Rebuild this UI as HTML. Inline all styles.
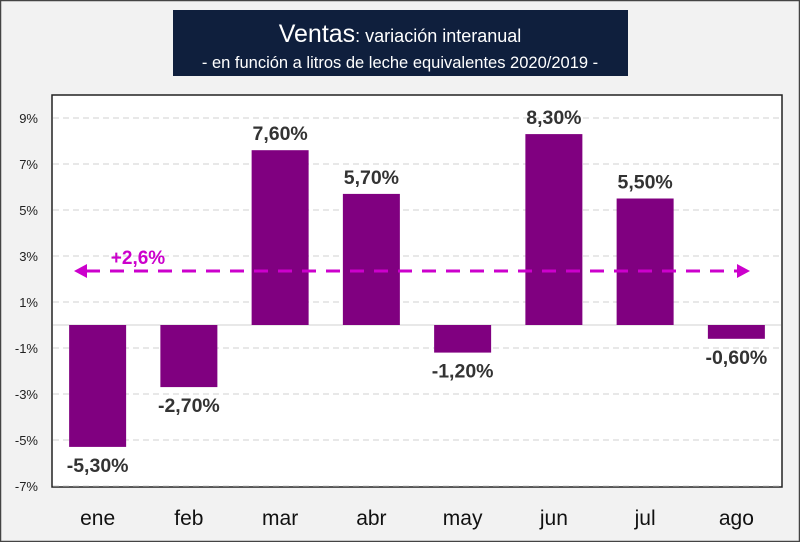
<!DOCTYPE html>
<html><head><meta charset="utf-8">
<style>
html,body{margin:0;padding:0;background:#f2f2f2;}
body{width:800px;height:542px;overflow:hidden;font-family:"Liberation Sans",sans-serif;}
</style></head>
<body>
<svg id="chart" width="800" height="542" xmlns="http://www.w3.org/2000/svg" style="display:block">
  <rect x="0.5" y="0.5" width="799" height="541" fill="#f2f2f2" stroke="#444" stroke-width="1.5"/>
  <rect x="173" y="10" width="455" height="66" fill="#0f1f3d"/>
  <text x="400" y="42" text-anchor="middle" fill="#fff" font-size="18"><tspan font-size="25">Ventas</tspan>: variación interanual</text>
  <text x="400" y="68" text-anchor="middle" fill="#fff" font-size="16.5">- en función a litros de leche equivalentes 2020/2019 -</text>
  <rect x="52" y="95" width="730" height="392" fill="#fff" stroke="#222" stroke-width="1.5"/>
  <g id="grid"></g>
  <g id="bars"></g>
  <g id="labels"></g>
  <g id="annot"></g>
</svg>
<script>
const categories = ["ene","feb","mar","abr","may","jun","jul","ago"];
const values = [-5.3,-2.7,7.6,5.7,-1.2,8.3,5.5,-0.6];
const valueLabels = ["-5,30%","-2,70%","7,60%","5,70%","-1,20%","8,30%","5,50%","-0,60%"];
const tickValues = [9,7,5,3,1,-1,-3,-5,-7];
const tickLabels = ["9%","7%","5%","3%","1%","-1%","-3%","-5%","-7%"];
const averageValue = [2.35];
const averageLabel = ["+2,6%"];

const NS="http://www.w3.org/2000/svg";
const L=52,R=782,Y0=325,PX=23;
const y = v => Y0 - v*PX;
const band=(R-L)/categories.length;
const xc = i => L + band*(i+0.5);
const bw = 57;
function mk(tag,attrs,parent){const e=document.createElementNS(NS,tag);for(const k in attrs)e.setAttribute(k,attrs[k]);parent.appendChild(e);return e;}
const grid=document.getElementById('grid'),bars=document.getElementById('bars'),labels=document.getElementById('labels'),annot=document.getElementById('annot');
tickValues.forEach((t,i)=>{
  const g=mk('line',{x1:L+1,x2:R-1,y1:y(t),y2:y(t),stroke:'#d0d0d0','stroke-dasharray':'6,4','stroke-width':1},grid);
  
  
  const tl=mk('text',{x:38,y:y(t)+5,'text-anchor':'end','font-size':13,fill:'#222'},grid);
  tl.textContent=tickLabels[i];
  
  
});
const zl=mk('line',{x1:L+1,x2:R-1,y1:y(0),y2:y(0),stroke:'#d0d0d0','stroke-width':1},grid);


values.forEach((v,i)=>{
  const top=Math.min(y(v),y(0)),h=Math.abs(y(v)-y(0));
  const b=mk('rect',{x:xc(i)-bw/2,y:top,width:bw,height:h,fill:'#800080'},bars);
  
  
  const ly = v>=0 ? y(v)-10 : y(v)+25;
  const t=mk('text',{x:xc(i),y:ly,'text-anchor':'middle','font-size':19.5,'font-weight':'bold',fill:'#333'},labels);
  t.textContent=valueLabels[i];
  
  
  const c=mk('text',{x:xc(i),y:525,'text-anchor':'middle','font-size':21,fill:'#111'},labels);
  c.textContent=categories[i];
  
  
});
const ay=y(averageValue[0]);
const al=mk('line',{x1:86,x2:738,y1:ay,y2:ay,stroke:'#cc00cc','stroke-width':3,'stroke-dasharray':'14,10'},annot);


const ah1=mk('polygon',{points:`74,${ay} 87,${ay-7} 87,${ay+7}`,fill:'#cc00cc'},annot);


const ah2=mk('polygon',{points:`750,${ay} 737,${ay-7} 737,${ay+7}`,fill:'#cc00cc'},annot);


const at=mk('text',{x:138,y:ay-7,'text-anchor':'middle','font-size':19,'font-weight':'bold',fill:'#cc00cc'},annot);
at.textContent=averageLabel[0];


</script>
</body></html>
